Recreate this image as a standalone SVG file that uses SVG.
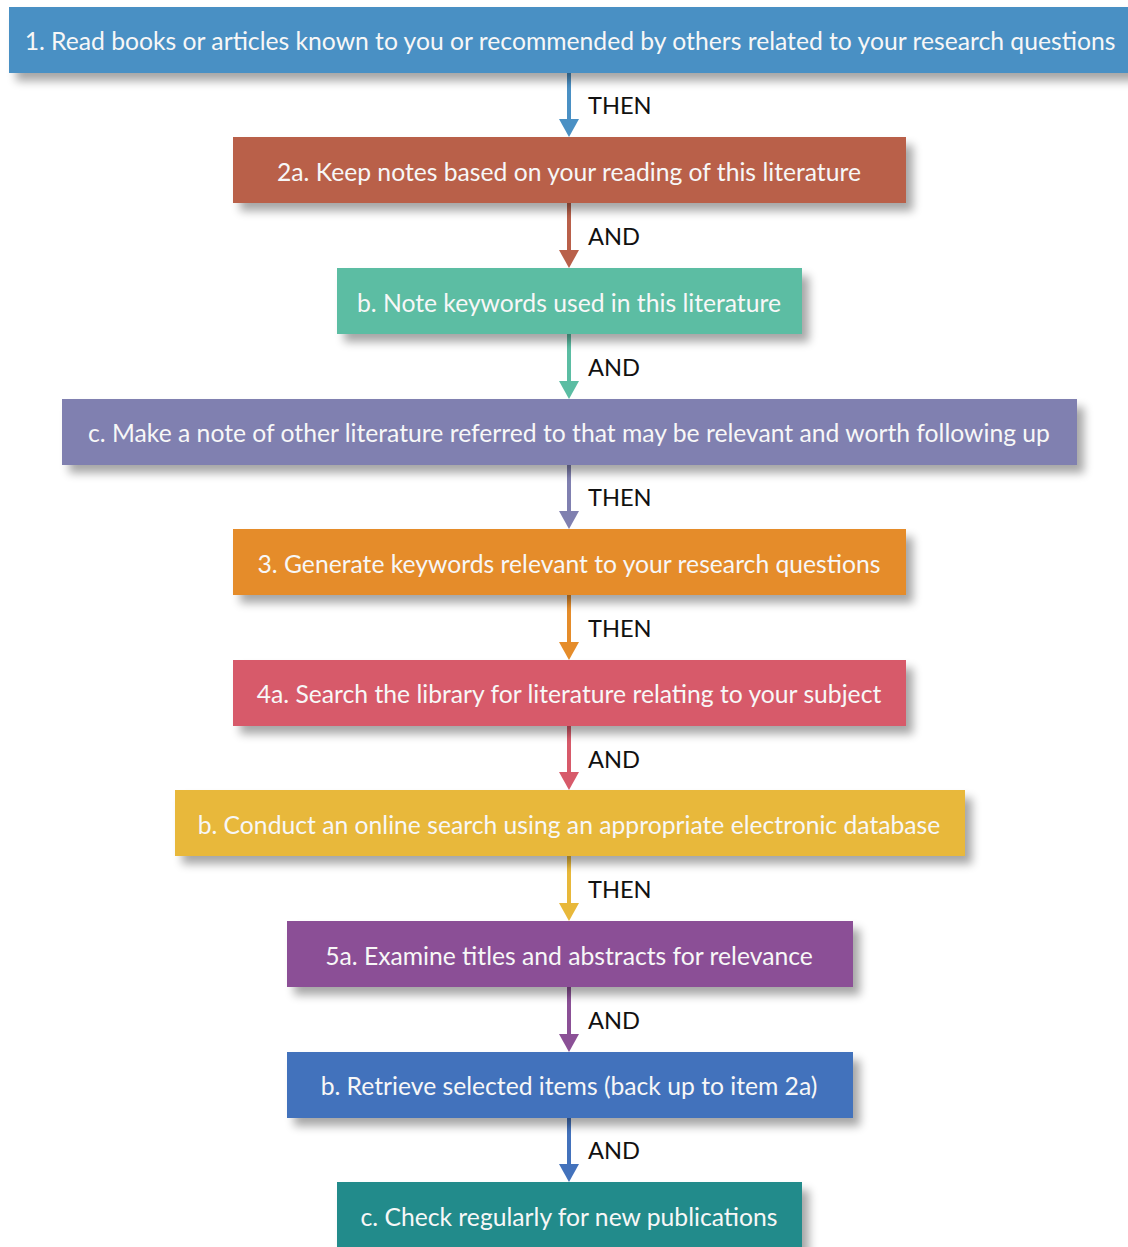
<svg xmlns="http://www.w3.org/2000/svg" width="1128" height="1247" viewBox="0 0 1128 1247">
  <defs>
    <filter id="shadow" x="-10%" y="-30%" width="130%" height="180%">
      <feGaussianBlur in="SourceAlpha" stdDeviation="5"/>
      <feOffset dx="7" dy="8" result="b"/>
      <feComponentTransfer><feFuncA type="linear" slope="0.35"/></feComponentTransfer>
      <feMerge><feMergeNode/><feMergeNode in="SourceGraphic"/></feMerge>
    </filter>
  </defs>
  <style>
    .box { filter: url(#shadow); }
    .t { font-family: Lato, "Open Sans", sans-serif; font-size: 24.7px; fill: #f7f7f7; text-anchor: middle; dominant-baseline: central; }
    .lbl { font-family: Lato, "Open Sans", sans-serif; font-size: 23.6px; fill: #111; }
    .line { fill: none; stroke-width: 4; }
    .head { stroke: none; }
  </style>
  <rect width="1128" height="1247" fill="#ffffff"/>

  <g id="connectors">
    <g>
      <path class="line" d="M569,73 V120" stroke="#4a90c4"/><path class="head" d="M559,119 H579 L569,137 Z" fill="#4a90c4"/>
      <text class="lbl" x="588" y="114">THEN</text>
    </g>
    <g>
      <path class="line" d="M569,203 V251" stroke="#b9604a"/><path class="head" d="M559,250 H579 L569,268 Z" fill="#b9604a"/>
      <text class="lbl" x="588" y="245">AND</text>
    </g>
    <g>
      <path class="line" d="M569,334 V382" stroke="#5bbda3"/><path class="head" d="M559,381 H579 L569,399 Z" fill="#5bbda3"/>
      <text class="lbl" x="588" y="376">AND</text>
    </g>
    <g>
      <path class="line" d="M569,465 V512" stroke="#8080b0"/><path class="head" d="M559,511 H579 L569,529 Z" fill="#8080b0"/>
      <text class="lbl" x="588" y="506">THEN</text>
    </g>
    <g>
      <path class="line" d="M569,595 V643" stroke="#e58c2a"/><path class="head" d="M559,642 H579 L569,660 Z" fill="#e58c2a"/>
      <text class="lbl" x="588" y="637">THEN</text>
    </g>
    <g>
      <path class="line" d="M569,726 V773" stroke="#d75a6a"/><path class="head" d="M559,772 H579 L569,790 Z" fill="#d75a6a"/>
      <text class="lbl" x="588" y="768">AND</text>
    </g>
    <g>
      <path class="line" d="M569,856 V904" stroke="#e8b83a"/><path class="head" d="M559,903 H579 L569,921 Z" fill="#e8b83a"/>
      <text class="lbl" x="588" y="898">THEN</text>
    </g>
    <g>
      <path class="line" d="M569,987 V1035" stroke="#8b5096"/><path class="head" d="M559,1034 H579 L569,1052 Z" fill="#8b5096"/>
      <text class="lbl" x="588" y="1029">AND</text>
    </g>
    <g>
      <path class="line" d="M569,1118 V1165" stroke="#4372bc"/><path class="head" d="M559,1164 H579 L569,1182 Z" fill="#4372bc"/>
      <text class="lbl" x="588" y="1159">AND</text>
    </g>
  </g>

  <g id="n1"><rect class="box" x="9" y="7" width="1130" height="66" fill="#4a90c4"/>
    <text class="t" x="570" y="40">1. Read books or articles known to you or recommended by others related to your research questions</text></g>
  <g id="n2a"><rect class="box" x="233" y="137" width="673" height="66" fill="#b9604a"/>
    <text class="t" x="569" y="171">2a. Keep notes based on your reading of this literature</text></g>
  <g id="n2b"><rect class="box" x="337" y="268" width="465" height="66" fill="#5bbda3"/>
    <text class="t" x="569" y="302">b. Note keywords used in this literature</text></g>
  <g id="n2c"><rect class="box" x="62" y="399" width="1015" height="66" fill="#8080b0"/>
    <text class="t" x="569" y="432">c. Make a note of other literature referred to that may be relevant and worth following up</text></g>
  <g id="n3"><rect class="box" x="233" y="529" width="673" height="66" fill="#e58c2a"/>
    <text class="t" x="569" y="563">3. Generate keywords relevant to your research questions</text></g>
  <g id="n4a"><rect class="box" x="233" y="660" width="673" height="66" fill="#d75a6a"/>
    <text class="t" x="569" y="693">4a. Search the library for literature relating to your subject</text></g>
  <g id="n4b"><rect class="box" x="175" y="790" width="790" height="66" fill="#e8b83a"/>
    <text class="t" x="569" y="824">b. Conduct an online search using an appropriate electronic database</text></g>
  <g id="n5a"><rect class="box" x="287" y="921" width="566" height="66" fill="#8b5096"/>
    <text class="t" x="569" y="955">5a. Examine titles and abstracts for relevance</text></g>
  <g id="n5b"><rect class="box" x="287" y="1052" width="566" height="66" fill="#4372bc"/>
    <text class="t" x="569" y="1085">b. Retrieve selected items (back up to item 2a)</text></g>
  <g id="n5c"><rect class="box" x="337" y="1182" width="465" height="70" fill="#218b8b"/>
    <text class="t" x="569" y="1216">c. Check regularly for new publications</text></g>
</svg>
